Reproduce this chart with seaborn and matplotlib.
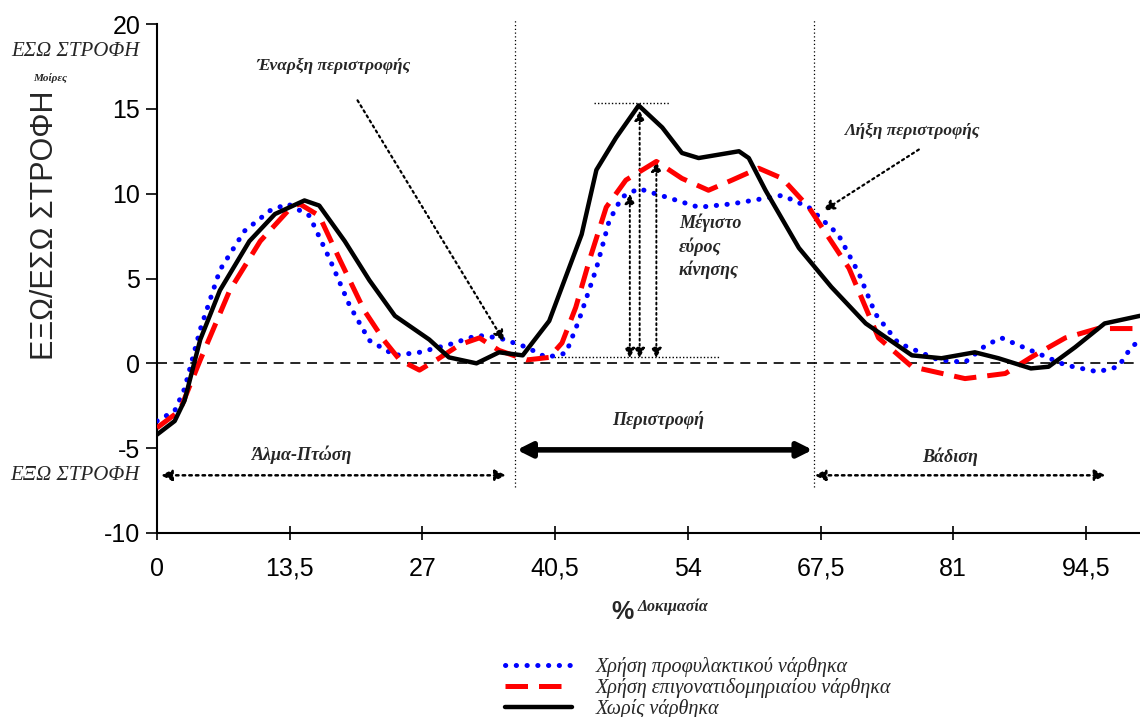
import pandas as pd
import seaborn as sns
import matplotlib.pyplot as plt

# % of trial
blue_x = [0, 1.8, 2.8, 4.4, 6.4, 8.9, 11.5, 13.3, 15.5, 17.6, 19.6, 21.6, 24.2, 26.7, 29.7, 32.6, 34.8,
          37.6, 39.6, 41.6, 42.9, 44.7, 46, 47.3, 49, 51.8, 55.1, 58.5, 63.6, 66.3, 69.3, 71.4, 73.1,
          75.4, 79.5, 82.2, 84.3, 85.9, 88.9, 92.4, 95.7, 97.8, 99.1, 100]
blue_y = [-3.4, -2.8, -1.5, 2.0, 5.5, 7.8, 9.0, 9.4, 8.7, 6.1, 3.4, 1.35, 0.47, 0.65, 1.1, 1.65, 1.5,
          0.95, 0.35, 0.6, 2.5, 5.6, 8.4, 9.8, 10.3, 9.8, 9.2, 9.4, 9.9, 9.2, 7.6, 5.3, 2.9,
          1.2, 0.2, 0.06, 1.06, 1.5, 0.76, -0.1, -0.5, -0.2, 0.95, 1.35]

red_x = [0, 2.3, 4.4, 7.4, 10.5, 13.5, 14.5, 16.5, 18.6, 21.1, 23.1, 24.7, 26.7, 28.7, 30.8, 32.8,
         34.8, 37.6, 39.9, 41.2, 42.6, 44, 45.7, 47.7, 50.8, 53.4, 56.1, 58.5, 61.2, 63.6, 66.3,
         70.4, 73.4, 76.8, 82.2, 86.3, 88.9, 92.4, 95.7, 100]
red_y = [-3.8, -2.8, 0.2, 4.3, 7.2, 9.1, 9.4, 8.7, 6.1, 3.1, 1.35, 0.2, -0.4, 0.3, 1.1, 1.5,
         0.76, 0.2, 0.35, 1.2, 3.3, 6.1, 9.2, 10.8, 11.9, 10.9, 10.2, 10.8, 11.5, 10.9, 9.2,
         5.6, 1.5, -0.2, -0.9, -0.6, 0.35, 1.5, 2.05, 2.05]

black_x = [0, 1.8, 2.8, 4.4, 6.4, 9.4, 12, 15, 16.5, 19.1, 21.6, 24.2, 27.7, 29.7, 32.5, 34.8, 37.2,
           39.9, 43.2, 44.7, 46.7, 49, 51.4, 53.4, 55.1, 59.2, 60.2, 61.9, 65.3, 68.6, 72.1, 76.8,
           79.8, 83.2, 85.6, 88.9, 90.7, 93.4, 96.4, 100]
black_y = [-4.2, -3.4, -2.2, 1.4, 4.3, 7.2, 8.8, 9.6, 9.3, 7.2, 4.9, 2.8, 1.4, 0.35, 0.0, 0.65, 0.47,
           2.5, 7.6, 11.4, 13.3, 15.2, 13.9, 12.4, 12.1, 12.5, 12.1, 10.2, 6.8, 4.5, 2.35, 0.47,
           0.3, 0.65, 0.3, -0.3, -0.2, 0.95, 2.35, 2.8]

labels = ["Χρήση προφυλακτικού νάρθηκα", "Χρήση επιγονατιδομηριαίου νάρθηκα", "Χωρίς νάρθηκα"]
x_ticks = [0, 13.5, 27, 40.5, 54, 67.5, 81, 94.5]
x_tick_labels = ["0", "13,5", "27", "40,5", "54", "67,5", "81", "94,5"]
y_ticks = [-10, -5, 0, 5, 10, 15, 20]

sns.set_style("ticks")
plt.rcParams['font.family'] = ['Liberation Sans', 'DejaVu Sans']
plt.rcParams['axes.unicode_minus'] = False

fig = plt.figure(figsize=(11.4, 7.17), dpi=100)
ax = fig.add_axes([157 / 1140, 1 - 533 / 717, 1 - 157 / 1140, (533 - 24) / 717])

serif = dict(family=['Liberation Serif', 'DejaVu Serif'], style='italic', fontweight='bold')

# zero line and phase borders
ax.axhline(0, color='black', lw=1.2, ls=(0, (6, 4)), zorder=1)
for xv in [36.4, 66.8]:
    ax.plot([xv, xv], [-7.3, 20.3], color='black', lw=0.9, ls=(0, (1, 2)), clip_on=False, zorder=1)

sns.lineplot(x=blue_x, y=blue_y, ax=ax, color='#0000ff', lw=3.6, label=labels[0],
             linestyle=(0, (0.05, 2.1)), dash_capstyle='round', zorder=3)
sns.lineplot(x=red_x, y=red_y, ax=ax, color='#ff0000', lw=3.6, label=labels[1],
             linestyle=(0, (4.5, 2.2)), zorder=4)
sns.lineplot(x=black_x, y=black_y, ax=ax, color='black', lw=3.2, label=labels[2], zorder=5)

ax.set_xlim(0, 100)
ax.set_ylim(-10, 20)
ax.set_xticks(x_ticks)
ax.set_xticklabels(x_tick_labels)
ax.set_yticks(y_ticks)
ax.tick_params(axis='x', direction='inout', length=10, width=1.2, labelsize=18, pad=12,
               colors='black')
ax.tick_params(axis='y', direction='out', length=8, width=1.2, labelsize=18, pad=4,
               colors='black')
for s in ['top', 'right']:
    ax.spines[s].set_visible(False)
for s in ['left', 'bottom']:
    ax.spines[s].set_linewidth(1.5)
    ax.spines[s].set_color('black')

# max range markers
ax.plot([44.5, 52.1], [15.35, 15.35], color='black', lw=1, ls=(0, (1, 1.5)))
ax.plot([40.4, 57.2], [0.4, 0.4], color='black', lw=1, ls=(0, (1, 1.5)))
for xv, top in [(48.1, 10.0), (49.1, 14.9), (50.8, 11.9)]:
    ax.annotate('', xy=(xv, top), xytext=(xv, 0.3),
                arrowprops=dict(arrowstyle='<|-|>', color='black', lw=1.4, ls=':',
                                mutation_scale=15, shrinkA=0, shrinkB=0))
ax.text(53.1, 8.3, "Μέγιστο", ha='left', va='center', fontsize=13, **serif)
ax.text(53.1, 6.9, "εύρος", ha='left', va='center', fontsize=13, **serif)
ax.text(53.1, 5.5, "κίνησης", ha='left', va='center', fontsize=13, **serif)

# start / end of rotation
ax.text(17.9, 17.5, "Έναρξη περιστροφής", ha='center', va='center', fontsize=12.5, **serif)
ax.annotate('', xy=(35.3, 1.3), xytext=(20.4, 15.5),
            arrowprops=dict(arrowstyle='-|>', color='black', lw=1.6, ls=':',
                            mutation_scale=16, shrinkA=0, shrinkB=0))
ax.text(76.8, 13.7, "Λήξη περιστροφής", ha='center', va='center', fontsize=12.5, **serif)
ax.annotate('', xy=(67.8, 9.0), xytext=(77.5, 12.6),
            arrowprops=dict(arrowstyle='-|>', color='black', lw=1.6, ls=':',
                            mutation_scale=16, shrinkA=0, shrinkB=0))

# phases
ax.text(14.8, -5.4, "Άλμα-Πτώση", ha='center', va='center', fontsize=13, **serif)
ax.annotate('', xy=(0.4, -6.6), xytext=(35.5, -6.6),
            arrowprops=dict(arrowstyle='<|-|>', color='black', lw=1.8, ls=':',
                            mutation_scale=16, shrinkA=0, shrinkB=0))
ax.text(51, -3.35, "Περιστροφή", ha='center', va='center', fontsize=13, **serif)
ax.annotate('', xy=(36.6, -5.1), xytext=(66.7, -5.1),
            arrowprops=dict(arrowstyle='<|-|>', color='black', lw=4,
                            mutation_scale=22, shrinkA=0, shrinkB=0))
ax.text(80.7, -5.5, "Βάδιση", ha='center', va='center', fontsize=13, **serif)
ax.annotate('', xy=(66.9, -6.6), xytext=(96.5, -6.6),
            arrowprops=dict(arrowstyle='<|-|>', color='black', lw=1.8, ls=':',
                            mutation_scale=16, shrinkA=0, shrinkB=0))

# axis texts
fig.text(140 / 1140, 1 - 52 / 717, "ΕΣΩ ΣΤΡΟΦΗ", ha='right', va='center', fontsize=15,
         family=['Liberation Serif', 'DejaVu Serif'], style='italic')
fig.text(50 / 1140, 1 - 78 / 717, "Μοίρες", ha='center', va='center', fontsize=8, **serif)
fig.text(140 / 1140, 1 - 475 / 717, "ΕΞΩ ΣΤΡΟΦΗ", ha='right', va='center', fontsize=15,
         family=['Liberation Serif', 'DejaVu Serif'], style='italic')
fig.text(45 / 1140, 1 - 225 / 717, "ΕΞΩ/ΕΣΩ ΣΤΡΟΦΗ", rotation=90, ha='center', va='center',
         fontsize=22)
fig.text(622 / 1140, 1 - 612 / 717, "%", ha='center', va='center', fontsize=18,
         fontweight='bold')
fig.text(638 / 1140, 1 - 607 / 717, "Δοκιμασία", ha='left', va='center', fontsize=11.5, **serif)

handles, _ = ax.get_legend_handles_labels()
fig.legend(handles, labels, loc='upper left', bbox_to_anchor=(495 / 1140, 1 - 647 / 717),
           frameon=False, handlelength=3.3, handletextpad=1.2, labelspacing=0.05,
           borderpad=0, prop=dict(family=['Liberation Serif', 'DejaVu Serif'], style='italic',
                                  size=14.5))
ax.get_legend().remove()

fig.savefig("out.png", dpi=100)
